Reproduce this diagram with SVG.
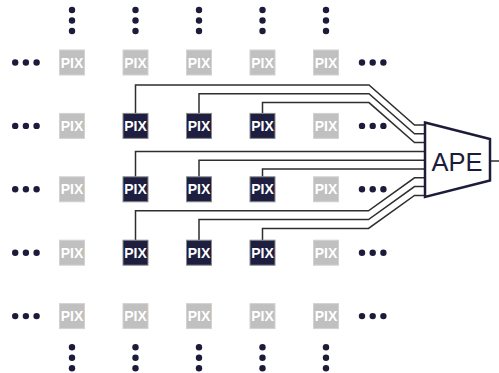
<svg xmlns="http://www.w3.org/2000/svg" width="499" height="373" viewBox="0 0 499 373">
<style>
.g rect{fill:#c0c0c0;stroke:#d2d2d2;stroke-width:1}
.d rect{fill:#1e1e40;stroke:#8a8a8a;stroke-width:1}
.g text,.d text{fill:#ffffff;font-family:"Liberation Sans",Arial,sans-serif;font-size:14px;font-weight:bold;text-anchor:middle}
.dot{fill:#1c1c3a}
.w{fill:none;stroke:#2e2e2e;stroke-width:1.5}
.ape polygon{fill:#ffffff;stroke:#1c1c3a;stroke-width:2.5;stroke-linejoin:miter}
.ape text{fill:#1c1c3a;font-family:"Liberation Sans",Arial,sans-serif;font-size:25.5px;text-anchor:middle}
</style>
<defs>
<g id="hd"><circle class="dot" cx="0" cy="0" r="3.2"/><circle class="dot" cx="10.7" cy="0" r="3.2"/><circle class="dot" cx="21.4" cy="0" r="3.2"/></g>
<g id="vd"><circle class="dot" cx="0" cy="0" r="3.2"/><circle class="dot" cx="0" cy="10.5" r="3.2"/><circle class="dot" cx="0" cy="21" r="3.2"/></g>
</defs>
<g id="ellipses">
<use href="#vd" x="72" y="10"/><use href="#vd" x="135.5" y="10"/><use href="#vd" x="199" y="10"/><use href="#vd" x="262.5" y="10"/><use href="#vd" x="326" y="10"/>
<use href="#vd" x="72" y="347.3"/><use href="#vd" x="135.5" y="347.3"/><use href="#vd" x="199" y="347.3"/><use href="#vd" x="262.5" y="347.3"/><use href="#vd" x="326" y="347.3"/>
<use href="#hd" x="15.2" y="62.5"/><use href="#hd" x="15.2" y="125.9"/><use href="#hd" x="15.2" y="189.3"/><use href="#hd" x="15.2" y="252.7"/><use href="#hd" x="15.2" y="316.1"/>
<use href="#hd" x="362" y="62.5"/><use href="#hd" x="362" y="125.9"/><use href="#hd" x="362" y="189.3"/><use href="#hd" x="362" y="252.7"/><use href="#hd" x="362" y="316.1"/>
</g>
<g id="connectors">
<polyline class="w" points="135.5,113.4 135.5,85 369,85 414.5,125 425,125"/>
<polyline class="w" points="199,113.4 199,93.8 369,93.8 414.5,133.8 425,133.8"/>
<polyline class="w" points="262.5,113.4 262.5,102.6 369,102.6 414.5,142.6 425,142.6"/>
<polyline class="w" points="135.5,176.8 135.5,151.4 425,151.4"/>
<polyline class="w" points="199,176.8 199,160.2 425,160.2"/>
<polyline class="w" points="262.5,176.8 262.5,169 425,169"/>
<polyline class="w" points="135.5,240.2 135.5,210.8 368.5,210.8 414.5,177.8 425,177.8"/>
<polyline class="w" points="199,240.2 199,219.6 368.5,219.6 414.5,186.6 425,186.6"/>
<polyline class="w" points="262.5,240.2 262.5,228.4 368.5,228.4 414.5,195.4 425,195.4"/>
<line class="w" x1="490" y1="161" x2="499" y2="161"/>
</g>
<g id="pix-r1c1" class="g"><rect x="59.5" y="50" width="25" height="25"/><text x="72" y="67.5">PIX</text></g>
<g id="pix-r1c2" class="g"><rect x="123" y="50" width="25" height="25"/><text x="135.5" y="67.5">PIX</text></g>
<g id="pix-r1c3" class="g"><rect x="186.5" y="50" width="25" height="25"/><text x="199" y="67.5">PIX</text></g>
<g id="pix-r1c4" class="g"><rect x="250" y="50" width="25" height="25"/><text x="262.5" y="67.5">PIX</text></g>
<g id="pix-r1c5" class="g"><rect x="313.5" y="50" width="25" height="25"/><text x="326" y="67.5">PIX</text></g>
<g id="pix-r2c1" class="g"><rect x="59.5" y="113.4" width="25" height="25"/><text x="72" y="130.9">PIX</text></g>
<g id="pix-r2c2" class="d"><rect x="123" y="113.4" width="25" height="25"/><text x="135.5" y="130.9">PIX</text></g>
<g id="pix-r2c3" class="d"><rect x="186.5" y="113.4" width="25" height="25"/><text x="199" y="130.9">PIX</text></g>
<g id="pix-r2c4" class="d"><rect x="250" y="113.4" width="25" height="25"/><text x="262.5" y="130.9">PIX</text></g>
<g id="pix-r2c5" class="g"><rect x="313.5" y="113.4" width="25" height="25"/><text x="326" y="130.9">PIX</text></g>
<g id="pix-r3c1" class="g"><rect x="59.5" y="176.8" width="25" height="25"/><text x="72" y="194.3">PIX</text></g>
<g id="pix-r3c2" class="d"><rect x="123" y="176.8" width="25" height="25"/><text x="135.5" y="194.3">PIX</text></g>
<g id="pix-r3c3" class="d"><rect x="186.5" y="176.8" width="25" height="25"/><text x="199" y="194.3">PIX</text></g>
<g id="pix-r3c4" class="d"><rect x="250" y="176.8" width="25" height="25"/><text x="262.5" y="194.3">PIX</text></g>
<g id="pix-r3c5" class="g"><rect x="313.5" y="176.8" width="25" height="25"/><text x="326" y="194.3">PIX</text></g>
<g id="pix-r4c1" class="g"><rect x="59.5" y="240.2" width="25" height="25"/><text x="72" y="257.7">PIX</text></g>
<g id="pix-r4c2" class="d"><rect x="123" y="240.2" width="25" height="25"/><text x="135.5" y="257.7">PIX</text></g>
<g id="pix-r4c3" class="d"><rect x="186.5" y="240.2" width="25" height="25"/><text x="199" y="257.7">PIX</text></g>
<g id="pix-r4c4" class="d"><rect x="250" y="240.2" width="25" height="25"/><text x="262.5" y="257.7">PIX</text></g>
<g id="pix-r4c5" class="g"><rect x="313.5" y="240.2" width="25" height="25"/><text x="326" y="257.7">PIX</text></g>
<g id="pix-r5c1" class="g"><rect x="59.5" y="303.6" width="25" height="25"/><text x="72" y="321.1">PIX</text></g>
<g id="pix-r5c2" class="g"><rect x="123" y="303.6" width="25" height="25"/><text x="135.5" y="321.1">PIX</text></g>
<g id="pix-r5c3" class="g"><rect x="186.5" y="303.6" width="25" height="25"/><text x="199" y="321.1">PIX</text></g>
<g id="pix-r5c4" class="g"><rect x="250" y="303.6" width="25" height="25"/><text x="262.5" y="321.1">PIX</text></g>
<g id="pix-r5c5" class="g"><rect x="313.5" y="303.6" width="25" height="25"/><text x="326" y="321.1">PIX</text></g>
<g id="ape" class="ape"><polygon points="425,122.5 490,139 490,180.5 425,197"/><text x="457" y="171">APE</text></g>
</svg>
